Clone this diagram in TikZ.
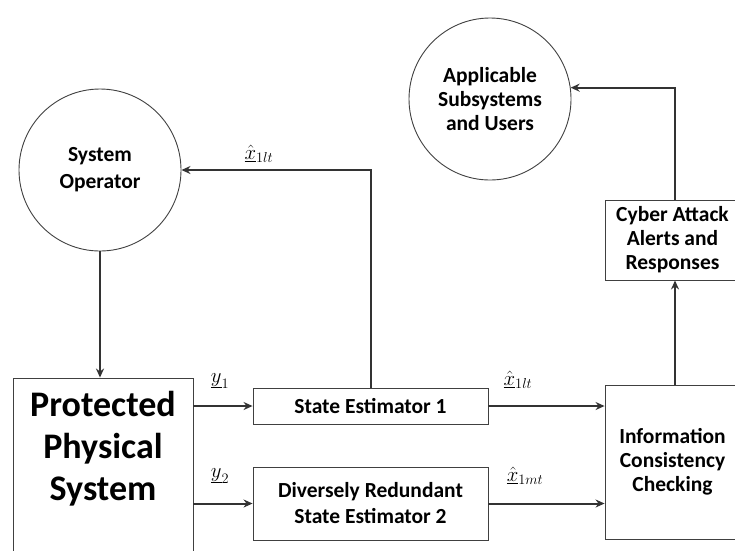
\documentclass[tikz,border=0pt]{standalone}
\usepackage{fontspec}
\setmainfont{Carlito}
\usetikzlibrary{arrows.meta}
\begin{document}
\begin{tikzpicture}[x=1pt,y=-1pt,
  arr/.style={draw=black!80, line width=2pt, -{Stealth[length=9pt,width=8pt]}},
  blk/.style={draw=black!75, line width=0.9pt, rectangle, inner sep=0pt, align=center, font=\bfseries\fontsize{21.5}{24}\selectfont},
  circ/.style={draw=black!75, line width=0.9pt, circle, inner sep=0pt, minimum size=162pt, align=center, font=\bfseries\fontsize{21.5}{24}\selectfont},
  lbl/.style={font=\fontsize{22}{24}\selectfont, inner sep=0pt}]
\useasboundingbox (0,0) rectangle (735,550);
% nodes
\node[circ, font=\bfseries\fontsize{21.5}{27}\selectfont] (sysop) at (100,170) {System\\Operator};
\node[circ] (app) at (490,99) {Applicable\\Subsystems\\and Users};
\node[blk, minimum width=180pt, minimum height=182pt] (pps) at (103,469) {};
\node[font=\bfseries\fontsize{36}{42}\selectfont, align=center, inner sep=0pt] (ppstext) at (103,449) {Protected\\Physical\\System};
\node[blk, minimum width=235pt, minimum height=36pt] (se1) at (370.5,406) {State Estimator 1};
\node[blk, minimum width=235pt, minimum height=73pt, font=\bfseries\fontsize{21.5}{26}\selectfont] (dse) at (370.5,503.5) {Diversely Redundant\\State Estimator 2};
\node[blk, minimum width=135pt, minimum height=154pt] (info) at (672.5,462) {Information\\Consistency\\Checking};
\node[blk, minimum width=135pt, minimum height=80pt] (cyber) at (672.5,240) {Cyber Attack\\Alerts and\\Responses};
% connectors
\draw[arr] (sysop.south) -- (pps.north -| sysop.south);
\draw[arr] (pps.east |- se1.west) -- (se1.west);
\draw[arr] (pps.east |- dse.west) -- (dse.west);
\draw[arr] (se1.east) -- (info.west |- se1.east);
\draw[arr] (dse.east) -- (info.west |- dse.east);
\draw[arr] (se1.north) |- (sysop.east);
\draw[arr] (info.north -| 675,0) -- (cyber.south -| 675,0);
\draw[arr] (cyber.north -| 675,0) |- (app.8);
% labels
\node[lbl] (ly1) at (220,381) {$\underline{y}_{1}$};
\node[lbl] (ly2) at (220,476) {$\underline{y}_{2}$};
\node[lbl] (lx1) at (518,380) {$\underline{\hat{x}}_{1lt}$};
\node[lbl] (lx2) at (525,476) {$\underline{\hat{x}}_{1mt}$};
\node[lbl] (lx3) at (259,154) {$\underline{\hat{x}}_{1lt}$};
\end{tikzpicture}
\end{document}
